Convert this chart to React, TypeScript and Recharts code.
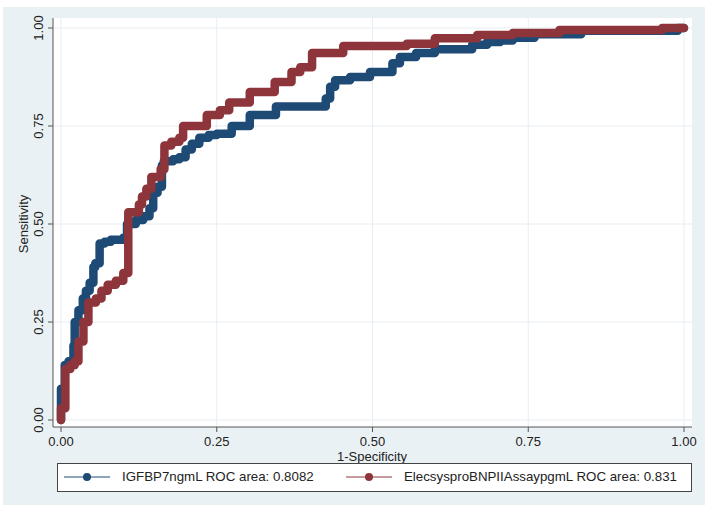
import { LineChart, Line, XAxis, YAxis, CartesianGrid } from "recharts";

// ROC points (step corners: at fpr the curve rises to sens)
const igfbpFpr = [0, 0, 0.006, 0.012, 0.02, 0.022, 0.028, 0.035, 0.04, 0.046, 0.052, 0.055, 0.062, 0.07, 0.08, 0.1, 0.106, 0.12, 0.132, 0.142, 0.148, 0.155, 0.162, 0.165, 0.18, 0.19, 0.2, 0.21, 0.222, 0.237, 0.25, 0.274, 0.303, 0.345, 0.425, 0.432, 0.44, 0.464, 0.496, 0.532, 0.544, 0.57, 0.6, 0.66, 0.684, 0.705, 0.725, 0.76, 0.835, 0.99, 1];
const igfbpSens = [0, 0.08, 0.14, 0.15, 0.19, 0.25, 0.28, 0.31, 0.33, 0.35, 0.39, 0.4, 0.45, 0.455, 0.46, 0.465, 0.5, 0.51, 0.52, 0.54, 0.58, 0.595, 0.65, 0.66, 0.665, 0.67, 0.69, 0.705, 0.72, 0.727, 0.73, 0.75, 0.778, 0.8, 0.82, 0.85, 0.867, 0.875, 0.888, 0.91, 0.926, 0.936, 0.946, 0.957, 0.964, 0.968, 0.975, 0.984, 0.993, 1, 1];

const bnpFpr = [0, 0, 0.007, 0.015, 0.022, 0.028, 0.036, 0.044, 0.056, 0.065, 0.075, 0.088, 0.1, 0.108, 0.125, 0.13, 0.137, 0.145, 0.16, 0.166, 0.177, 0.19, 0.196, 0.234, 0.255, 0.27, 0.303, 0.343, 0.37, 0.384, 0.403, 0.453, 0.555, 0.6, 0.668, 0.725, 0.8, 0.965, 1];
const bnpSens = [0, 0.03, 0.13, 0.14, 0.15, 0.2, 0.25, 0.3, 0.31, 0.33, 0.345, 0.355, 0.375, 0.53, 0.55, 0.57, 0.59, 0.62, 0.64, 0.7, 0.71, 0.72, 0.75, 0.778, 0.79, 0.81, 0.837, 0.862, 0.888, 0.9, 0.936, 0.954, 0.96, 0.974, 0.982, 0.987, 0.995, 1, 1];

const TICKS = [0, 0.25, 0.5, 0.75, 1];
const LABELS = ["IGFBP7ngmL ROC area: 0.8082", "ElecsysproBNPIIAssaypgmL ROC area: 0.831"];

const NAVY = "#1e4a76";
const MAROON = "#8e343b";
const FONT = "'Liberation Sans', Arial, sans-serif";

const igfbp = igfbpFpr.map((fpr, i) => ({ fpr, sens: igfbpSens[i] }));
const bnp = bnpFpr.map((fpr, i) => ({ fpr, sens: bnpSens[i] }));

const YTick = ({ x, y, payload }: any) => (
  <g transform={`translate(${x},${y})`}>
    <text transform="rotate(-90)" textAnchor="middle" fontSize={13} fill="#222" fontFamily={FONT}>
      {Number(payload.value).toFixed(2)}
    </text>
  </g>
);

const LegendItem = ({ color, label }: { color: string; label: string }) => (
  <div style={{ display: "flex", alignItems: "center" }}>
    <svg width={46} height={10} style={{ marginRight: 12 }}>
      <line x1={0} y1={5} x2={46} y2={5} stroke={color} strokeWidth={1} />
      <circle cx={23} cy={5} r={4} fill={color} />
    </svg>
    <span>{label}</span>
  </div>
);

export default function App() {
  return (
    <div style={{ position: "absolute", left: 0, top: 0, width: 709, height: 519, background: "#fff", fontFamily: FONT }}>
      <div style={{ position: "absolute", left: 3, top: 7, width: 702, height: 498, background: "#eaf1f4" }} />
      <div style={{ position: "absolute", left: 0, top: 0 }}>
        <LineChart width={709} height={519} margin={{ top: 18, right: 17, left: 0, bottom: 62 }}>
          <CartesianGrid fill="#fff" stroke="#e6eef2" horizontalValues={TICKS} verticalValues={TICKS} />
          <XAxis
            type="number"
            dataKey="fpr"
            domain={[0, 1]}
            ticks={TICKS}
            padding={{ left: 8, right: 8 }}
            tickFormatter={(v: number) => v.toFixed(2)}
            tick={{ fontSize: 13, fill: "#222", fontFamily: FONT }}
            tickSize={5}
            tickMargin={5}
            height={30}
            stroke="#555"
            label={() => (
              <text x={372} y={461} textAnchor="middle" fontSize={13} fill="#222" fontFamily={FONT}>
                1-Specificity
              </text>
            )}
          />
          <YAxis
            type="number"
            dataKey="sens"
            domain={[0, 1]}
            ticks={TICKS}
            padding={{ top: 10, bottom: 7 }}
            tick={<YTick />}
            tickSize={5}
            tickMargin={5}
            width={53}
            stroke="#555"
            label={() => (
              <text transform="translate(28,224) rotate(-90)" textAnchor="middle" fontSize={13} fill="#222" fontFamily={FONT}>
                Sensitivity
              </text>
            )}
          />
          <Line
            data={igfbp}
            dataKey="sens"
            type="stepAfter"
            stroke={NAVY}
            strokeWidth={8.5}
            strokeLinejoin="round"
            strokeLinecap="round"
            dot={false}
            isAnimationActive={false}
          />
          <Line
            data={bnp}
            dataKey="sens"
            type="stepAfter"
            stroke={MAROON}
            strokeWidth={8.5}
            strokeLinejoin="round"
            strokeLinecap="round"
            dot={false}
            isAnimationActive={false}
          />
        </LineChart>
      </div>
      <div
        style={{
          position: "absolute",
          left: 57,
          top: 463,
          width: 633,
          height: 27,
          border: "1px solid #444",
          background: "#fff",
          fontSize: 13.3,
          color: "#222",
          boxSizing: "content-box",
        }}
      >
        <div style={{ position: "absolute", left: 6, top: 5 }}>
          <LegendItem color={NAVY} label={LABELS[0]} />
        </div>
        <div style={{ position: "absolute", left: 288, top: 5 }}>
          <LegendItem color={MAROON} label={LABELS[1]} />
        </div>
      </div>
    </div>
  );
}
